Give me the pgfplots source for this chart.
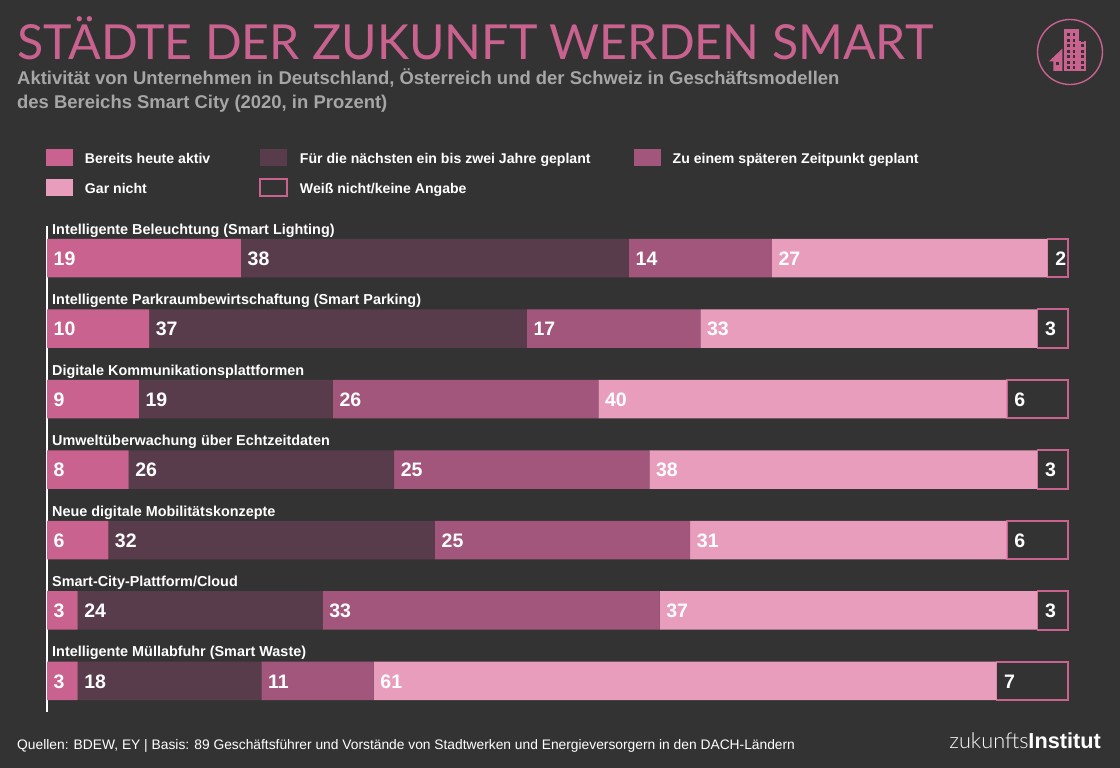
\documentclass[border=0pt]{standalone}
\usepackage{fontspec}
\usepackage{pgfplots}
\usepackage{pgfplotstable}
\pgfplotsset{compat=1.18}
\setmainfont{Liberation Sans}
\newfontfamily\lightfont{Lato Light}
\newfontfamily\titlefont{Lato}
\definecolor{bg}{HTML}{333333}
\definecolor{pinkA}{HTML}{C9628F}
\definecolor{pinkB}{HTML}{593C4C}
\definecolor{pinkC}{HTML}{A3567B}
\definecolor{pinkD}{HTML}{E99DBD}
\definecolor{subgray}{HTML}{A6A6A6}
\newcommand{\fs}[1]{\fontsize{#1}{#1}\selectfont}

\pgfplotstableread{
row a  b  c  d  e
0   19 38 14 27 2
1   10 37 17 33 3
2   9  19 26 40 6
3   8  26 25 38 3
4   6  32 25 31 6
5   3  24 33 37 3
6   3  18 11 61 7
}\shares

\pgfplotsset{
  rows/.style={
    at={(47pt,-712pt)}, anchor=south west,
    width=1021pt, height=486pt, scale only axis,
    xmin=0, xmax=100, ymin=-0.454, ymax=6.44,
    y dir=reverse, clip=false,
  },
  vals/.style={
    only marks, mark=none, point meta=\thisrow{#1},
    nodes near coords,
    nodes near coords style={anchor=west, inner sep=0pt, xshift=6.5pt, yshift=-0.5pt,
      text=white, font=\bfseries\fs{19.5},
      /pgf/number format/assume math mode=true},
  },
}

\begin{document}
\begin{tikzpicture}[x=1pt,y=1pt]
\path[use as bounding box, fill=bg] (0,0) rectangle (1120,-768);

\node[anchor=base west, inner sep=0pt, text=pinkA, font=\titlefont\fs{48.3}] at (17,-59.5) {STÄDTE DER ZUKUNFT WERDEN SMART};
\node[anchor=base west, inner sep=0pt, text=subgray, font=\bfseries\fs{18.45}] at (17,-84.5) {Aktivität von Unternehmen in Deutschland, Österreich und der Schweiz in Geschäftsmodellen};
\node[anchor=base west, inner sep=0pt, text=subgray, font=\bfseries\fs{18.45}] at (17,-108) {des Bereichs Smart City (2020, in Prozent)};

% icon
\draw[pinkA, line width=1.4pt] (1070,-52) circle (32.5);
\fill[pinkA] (1064.3,-29.5) rectangle (1079,-71);
\fill[pinkA] (1079,-41) rectangle (1085.7,-71);
\fill[pinkA] (1049,-61.3) -- (1062.3,-48.7) -- (1062.3,-71) -- (1053.3,-71) -- (1053.3,-61.3) -- cycle;
\fill[bg] (1056.3,-62.5) rectangle (1059,-65.2);
\foreach \yy in {0,...,6}{
  \foreach \xx in {1067.2,1072.6,1081}{
    \fill[bg] (\xx,-33.5-5.5*\yy) rectangle (\xx+2.8,-36.3-5.5*\yy);
  }
}

\begin{axis}[rows,
  xbar stacked, bar width=38.5pt, bar shift=0pt,
  axis x line=none,
  axis y line=left,
  axis line style={white, line width=1.6pt, -},
  ytick={0,...,6}, major tick length=0pt,
  yticklabels={Intelligente Beleuchtung (Smart Lighting),
    Intelligente Parkraumbewirtschaftung (Smart Parking),
    Digitale Kommunikationsplattformen,
    Umweltüberwachung über Echtzeitdaten,
    Neue digitale Mobilitätskonzepte,
    Smart-City-Plattform/Cloud,
    Intelligente Müllabfuhr (Smart Waste)},
  yticklabel style={anchor=west, inner sep=0pt, xshift=5pt, yshift=27.5pt,
    text=white, font=\bfseries\fs{14.4}, text height=10pt, text depth=3pt},
  legend columns=3,
  legend cell align=left,
  legend image code/.code={\path[#1] (0pt,-8.5pt) rectangle (27pt,8.5pt);},
  legend style={at={(-0.001,1.158)}, anchor=north west, draw=none, fill=none,
    inner sep=0pt, outer sep=0pt, row sep=12pt, text=white,
    font=\bfseries\fs{14.1},
    nodes={inner sep=0pt, text height=10pt, text depth=3pt, yshift=-2pt},
    /tikz/every odd column/.append style={column sep=12pt},
    /tikz/every even column/.append style={column sep=43pt}},
]
\addplot[fill=pinkA, draw=none] table[x=a, y=row] {\shares};
\addlegendentry{Bereits heute aktiv\hspace{6pt}\null}
\addplot[fill=pinkB, draw=none] table[x=b, y=row] {\shares};
\addlegendentry{Für die nächsten ein bis zwei Jahre geplant}
\addplot[fill=pinkC, draw=none] table[x=c, y=row] {\shares};
\addlegendentry{Zu einem späteren Zeitpunkt geplant}
\addplot[fill=pinkD, draw=none] table[x=d, y=row] {\shares};
\addlegendentry{Gar nicht}
\addplot[fill=none, draw=pinkA, line width=1.6pt] table[x=e, y=row] {\shares};
\addlegendentry{Weiß nicht/keine Angabe}
\end{axis}

\begin{axis}[rows, hide axis]
\addplot[vals=a] table[x expr=0, y=row] {\shares};
\addplot[vals=b] table[x=a, y=row] {\shares};
\addplot[vals=c] table[x expr=\thisrow{a}+\thisrow{b}, y=row] {\shares};
\addplot[vals=d] table[x expr=\thisrow{a}+\thisrow{b}+\thisrow{c}, y=row] {\shares};
\addplot[vals=e, nodes near coords style={xshift=1pt}] table[x expr=\thisrow{a}+\thisrow{b}+\thisrow{c}+\thisrow{d}, y=row] {\shares};
\end{axis}

\node[anchor=base west, inner sep=0pt, text=white, font=\fs{13.8}] at (17,-749) {Quellen: BDEW, EY | Basis: 89 Geschäftsführer und Vorstände von Stadtwerken und Energieversorgern in den DACH-Ländern};
\node[anchor=base east, inner sep=0pt, text=white, font=\fs{21.7}] at (1101,-748) {{\lightfont zukunfts}\textbf{Institut}};
\end{tikzpicture}
\end{document}
